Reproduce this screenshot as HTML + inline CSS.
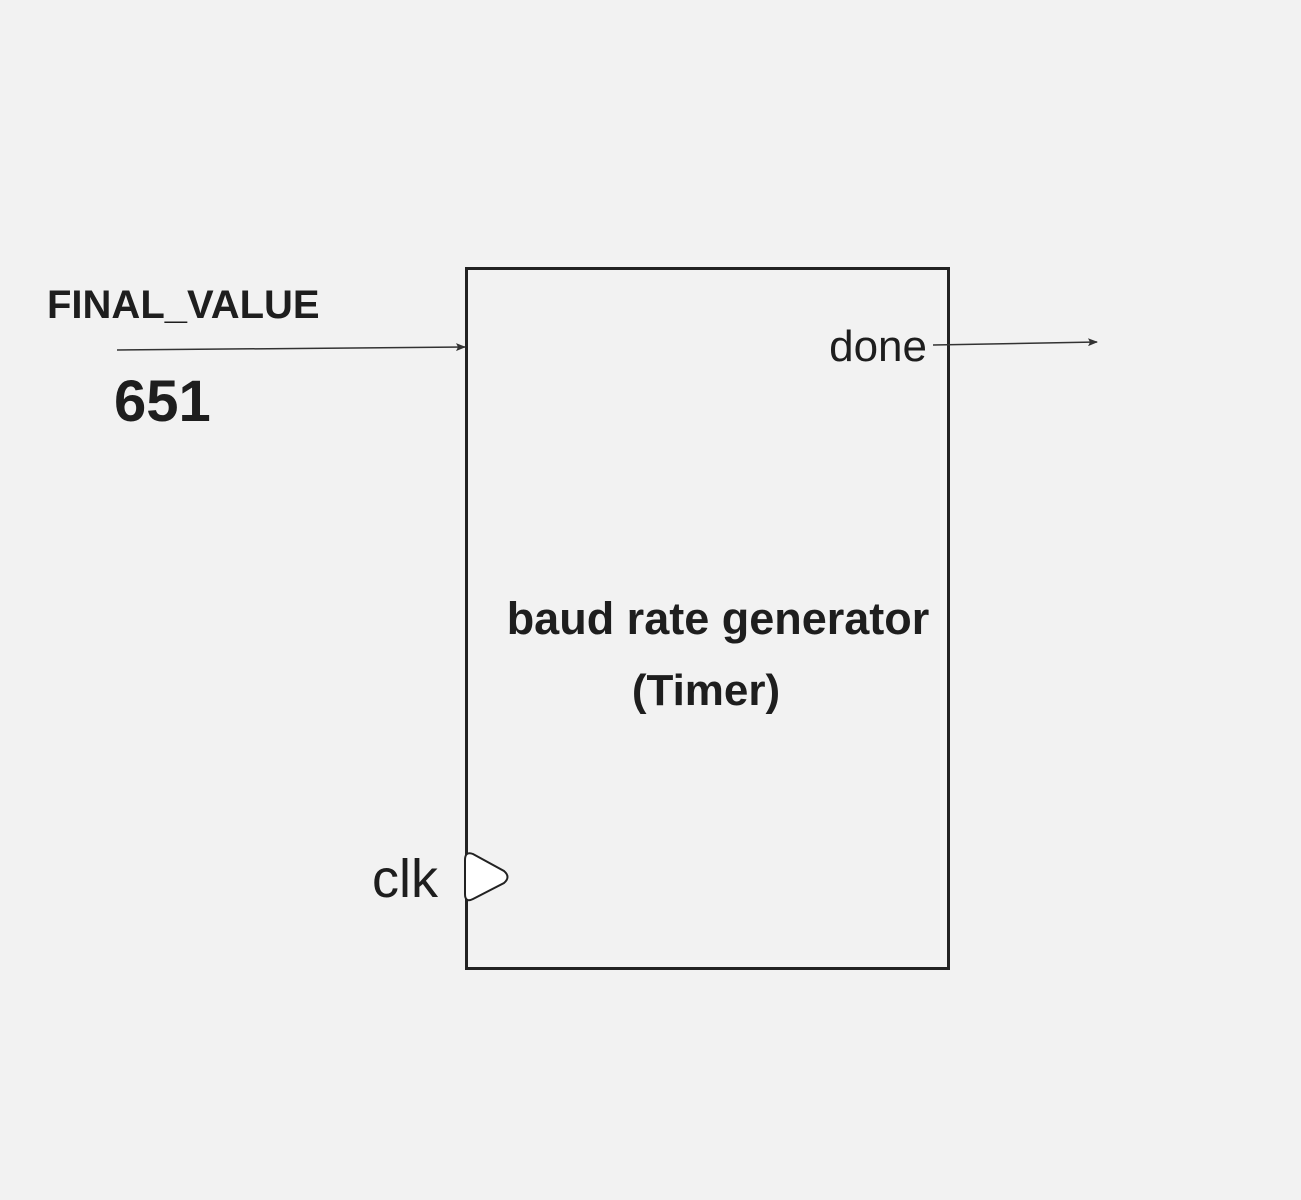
<!DOCTYPE html>
<html><head><meta charset="utf-8"><style>
html,body{margin:0;padding:0;background:#f2f2f2;width:1301px;height:1200px;overflow:hidden}
svg text{font-family:"Liberation Sans",sans-serif;fill:#1e1e1e}
</style></head><body>
<svg width="1301" height="1200" viewBox="0 0 1301 1200">
<defs><marker id="ah" markerWidth="10" markerHeight="8" refX="9" refY="4" orient="auto" markerUnits="userSpaceOnUse"><path d="M0,0 L10,4 L0,8 L2,4 Z" fill="#333"/></marker></defs>
<rect x="0" y="0" width="1301" height="1200" fill="#f2f2f2"/>
<rect x="466.5" y="268.5" width="482" height="700" fill="none" stroke="#222" stroke-width="3"/>
<text x="47" y="318" font-size="40" font-weight="bold">FINAL_VALUE</text>
<line x1="117" y1="350" x2="465" y2="347" stroke="#333" stroke-width="1.5" marker-end="url(#ah)"/>
<text x="114" y="421" font-size="58" font-weight="bold">651</text>
<text x="927" y="361" font-size="44" text-anchor="end">done</text>
<line x1="933" y1="345" x2="1097" y2="342" stroke="#333" stroke-width="1.5" marker-end="url(#ah)"/>
<text x="718" y="634" font-size="45" font-weight="bold" text-anchor="middle">baud rate generator</text>
<text x="706" y="705" font-size="44" font-weight="bold" text-anchor="middle">(Timer)</text>
<text x="372" y="897" font-size="54">clk</text>
<path d="M465,860 Q465,851 473,854 L504,871 Q511,877 504,883 L473,899 Q465,903 465,894 Z" fill="#fff" stroke="#222" stroke-width="2"/>
</svg>
</body></html>
